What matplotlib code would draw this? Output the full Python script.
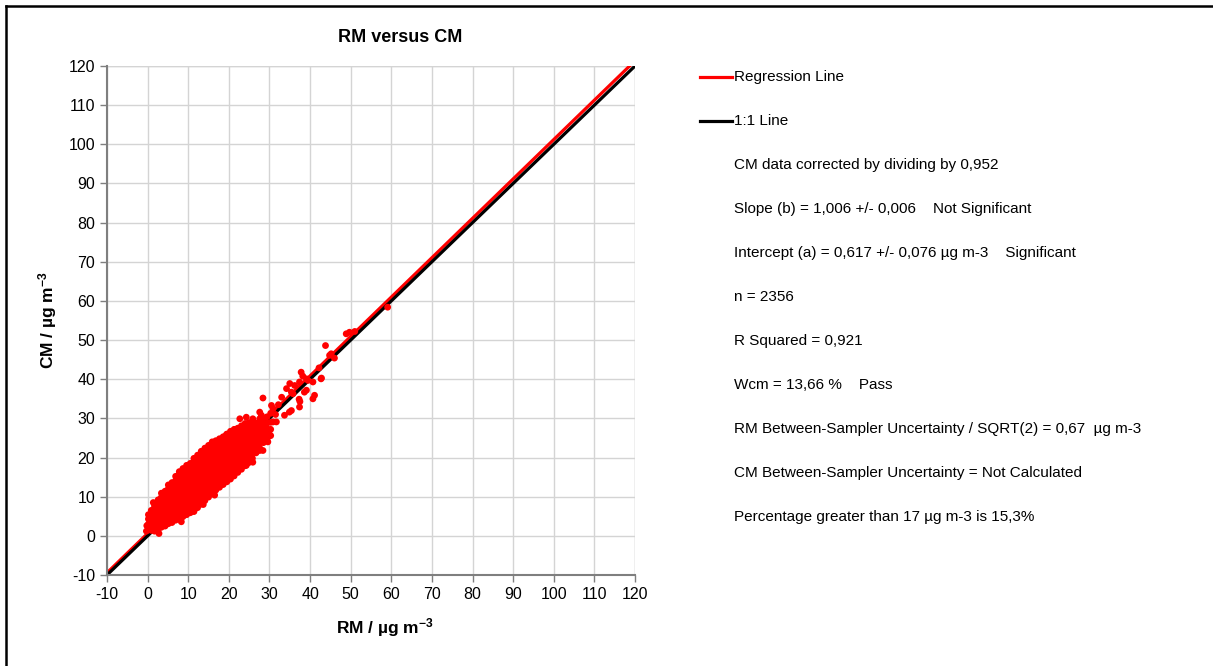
import matplotlib
matplotlib.use('Agg')
import matplotlib.pyplot as plt
from matplotlib.lines import Line2D

plt.rcParams['font.family'] = ['Liberation Sans', 'DejaVu Sans']
plt.rcParams['mathtext.fontset'] = 'custom'
plt.rcParams['mathtext.rm'] = 'Liberation Sans'
plt.rcParams['mathtext.bf'] = 'Liberation Sans:bold'
plt.rcParams['axes.unicode_minus'] = False

# dense core of the cloud, read column by column (RM value -> CM values)
core_rm = [0.2, 0.9, 1.7, 2.6, 3.4, 4.3, 5.1, 6.0, 6.9, 7.8, 8.7, 9.6, 10.5, 11.4, 12.3,
           13.2, 14.1, 15.0, 15.9, 16.8, 17.7, 18.6, 19.5, 20.4, 21.3, 22.2, 23.1, 24.0,
           24.9, 25.8, 26.7, 27.6, 28.5, 29.4, 30.3]
core_cm = [
    [1.8, 3.0, 4.3, 5.4],
    [1.4, 2.6, 3.9, 5.1, 6.5],
    [1.2, 2.4, 3.7, 5.0, 6.2, 7.6],
    [1.6, 2.9, 4.1, 5.3, 6.6, 7.9, 9.2],
    [2.2, 3.4, 4.7, 6.0, 7.2, 8.5, 9.8, 10.9],
    [2.5, 3.8, 5.1, 6.3, 7.6, 8.9, 10.1, 11.4],
    [3.1, 4.4, 5.6, 6.9, 8.2, 9.4, 10.7, 12.0, 13.0],
    [3.4, 4.7, 6.0, 7.3, 8.5, 9.8, 11.1, 12.3, 13.6],
    [4.0, 5.3, 6.5, 7.8, 9.1, 10.3, 11.6, 12.9, 14.1, 15.2],
    [4.4, 5.7, 6.9, 8.2, 9.5, 10.7, 12.0, 13.3, 14.5, 15.8, 16.4],
    [4.9, 6.2, 7.5, 8.7, 10.0, 11.3, 12.5, 13.8, 15.0, 16.3, 17.2],
    [5.4, 6.7, 7.9, 9.2, 10.5, 11.7, 13.0, 14.3, 15.5, 16.8, 18.0],
    [5.9, 7.1, 8.4, 9.7, 10.9, 12.2, 13.5, 14.7, 16.0, 17.2, 18.5],
    [6.4, 7.7, 8.9, 10.2, 11.5, 12.7, 14.0, 15.3, 16.5, 17.8, 19.1, 19.8],
    [7.2, 8.4, 9.7, 11.0, 12.2, 13.5, 14.8, 16.0, 17.3, 18.5, 19.8, 20.6],
    [8.1, 9.3, 10.6, 11.9, 13.1, 14.4, 15.7, 16.9, 18.2, 19.4, 20.7, 21.6],
    [9.0, 10.2, 11.5, 12.8, 14.0, 15.3, 16.6, 17.8, 19.1, 20.3, 21.6, 22.4],
    [9.9, 11.1, 12.4, 13.7, 14.9, 16.2, 17.4, 18.7, 20.0, 21.2, 22.5, 23.1],
    [10.8, 12.1, 13.3, 14.6, 15.9, 17.1, 18.4, 19.6, 20.9, 22.2, 23.4, 24.0],
    [11.7, 13.0, 14.2, 15.5, 16.7, 18.0, 19.3, 20.5, 21.8, 23.0, 24.3],
    [12.4, 13.7, 14.9, 16.2, 17.5, 18.7, 20.0, 21.3, 22.5, 23.8, 24.8],
    [13.1, 14.4, 15.6, 16.9, 18.2, 19.4, 20.7, 22.0, 23.2, 24.5, 25.3],
    [13.8, 15.0, 16.3, 17.6, 18.8, 20.1, 21.4, 22.6, 23.9, 25.2, 26.0],
    [14.5, 15.8, 17.0, 18.3, 19.6, 20.8, 22.1, 23.3, 24.6, 25.9, 26.7],
    [15.3, 16.6, 17.8, 19.1, 20.4, 21.6, 22.9, 24.1, 25.4, 26.6, 27.2],
    [16.2, 17.4, 18.7, 20.0, 21.2, 22.5, 23.7, 25.0, 26.3, 27.5],
    [17.0, 18.3, 19.5, 20.8, 22.1, 23.3, 24.6, 25.8, 27.1, 28.1],
    [17.9, 19.1, 20.4, 21.7, 22.9, 24.2, 25.4, 26.7, 28.0, 28.7],
    [18.7, 20.0, 21.3, 22.5, 23.8, 25.0, 26.3, 27.6, 28.9],
    [19.8, 21.1, 22.3, 23.6, 24.9, 26.1, 27.4, 28.6, 29.3],
    [21.2, 22.5, 23.7, 25.0, 26.3, 27.5, 28.8],
    [22.4, 23.7, 25.0, 26.2, 27.5, 28.7, 29.9],
    [23.8, 25.1, 26.3, 27.6, 28.9, 30.1],
    [24.5, 26.0, 27.4, 28.8, 30.4],
    [25.6, 27.2, 29.0, 31.3],
]

# scattered points outside the core
spread_rm = [-0.3, -0.2, 0.6, 1.4, 3.4, 2.8, 8.3, 11.4, 13.7, 16.5, 24.3, 19.4, 22.7, 24.3,
             28.4, 33.0, 30.9, 30.0, 31.7, 28.4, 35.0, 37.5, 35.4, 33.7, 37.8, 39.1, 40.7,
             41.1, 42.7, 43.8, 46.0, 44.8, 45.2, 48.9, 49.7, 51.0, 59.1, 38.2, 39.1, 40.7,
             34.2, 35.8, 36.2, 38.6, 42.8, 42.2, 30.5, 35.4, 37.4, 39.5, 37.3, 37.4, 34.9,
             30.9, 28.8, 29.6, 27.6, 25.9, 28.0, 25.9, 27.6, 25.5, 27.2, 21.5, 32.2, 31.5]
spread_cm = [1.2, 2.6, 3.6, 8.5, 9.7, 0.6, 3.6, 6.2, 8.0, 10.4, 18.0, 25.8, 29.9, 30.3,
             35.2, 35.4, 32.5, 25.8, 29.1, 21.8, 38.9, 34.3, 32.0, 30.8, 41.8, 37.2, 35.0,
             35.9, 40.1, 48.6, 45.4, 46.1, 46.5, 51.6, 52.0, 52.2, 58.4, 40.8, 40.1, 39.3,
             37.6, 36.3, 38.4, 36.7, 40.3, 42.9, 33.3, 36.7, 39.3, 39.7, 34.9, 32.9, 31.6,
             29.1, 27.8, 24.0, 21.8, 18.8, 30.8, 29.9, 31.6, 26.9, 25.7, 21.0, 33.5, 31.0]

slope = 1.006
intercept = 0.617
line_x = [-10, 120]

info_lines = [
    'CM data corrected by dividing by 0,952',
    'Slope (b) = 1,006 +/- 0,006    Not Significant',
    'Intercept (a) = 0,617 +/- 0,076 µg m-3    Significant',
    'n = 2356',
    'R Squared = 0,921',
    'Wcm = 13,66 %    Pass',
    'RM Between-Sampler Uncertainty / SQRT(2) = 0,67  µg m-3',
    'CM Between-Sampler Uncertainty = Not Calculated',
    'Percentage greater than 17 µg m-3 is 15,3%',
]

W, H = 1213, 666
fig = plt.figure(figsize=(W / 100, H / 100), dpi=100)
ax = fig.add_axes([107 / W, 1 - 575 / H, 528 / W, 509 / H])

rm_all = []
cm_all = []
for x, ys in zip(core_rm, core_cm):
    rm_all += [x] * len(ys)
    cm_all += ys
rm_all += spread_rm
cm_all += spread_cm

ax.plot(line_x, [slope * v + intercept for v in line_x], color='#ff0000', lw=2.3, zorder=2,
        solid_capstyle='butt')
ax.plot(line_x, line_x, color='black', lw=2.3, zorder=2.1, solid_capstyle='butt')
ax.scatter(rm_all, cm_all, s=24, color='#ff0000', edgecolors='none', zorder=3)

ax.set_xlim(-10, 120)
ax.set_ylim(-10, 120)
ax.set_xticks(range(-10, 121, 10))
ax.set_yticks(range(-10, 121, 10))
ax.grid(True, color='#d4d4d4', lw=1)
ax.set_axisbelow(True)
for s in ['top', 'right']:
    ax.spines[s].set_visible(False)
for s in ['left', 'bottom']:
    ax.spines[s].set_color('#7f7f7f')
    ax.spines[s].set_linewidth(1.5)
ax.tick_params(colors='#7f7f7f', labelcolor='black', labelsize=11.5, length=5, width=1)
# top and right edges are just light grid lines at 120
ax.axhline(120, color='#d4d4d4', lw=1, zorder=0.5)
ax.axvline(120, color='#d4d4d4', lw=1, zorder=0.5)

ax.set_xlabel(r'RM / µg m$\mathbf{^{-3}}$', fontsize=12.5, fontweight='bold')
ax.set_ylabel(r'CM / µg m$\mathbf{^{-3}}$', fontsize=12.5, fontweight='bold')
ax.xaxis.set_label_coords((385 - 107) / 528, -(628 - 575) / 509)
ax.yaxis.set_label_coords(-(107 - 48) / 528, (575 - 320) / 509)
ax.xaxis.label.set_va('center')
ax.yaxis.label.set_va('center')
fig.text(400 / W, 1 - 37 / H, 'RM versus CM', ha='center', va='center',
         fontsize=13, fontweight='bold')

# legend entries drawn by hand at the right
fig.add_artist(Line2D([700 / W, 732 / W], [1 - 77 / H] * 2, color='#ff0000', lw=2.3,
                      transform=fig.transFigure))
fig.add_artist(Line2D([700 / W, 732 / W], [1 - 121 / H] * 2, color='black', lw=2.3,
                      transform=fig.transFigure))
fig.text(734 / W, 1 - 77 / H, 'Regression Line', ha='left', va='center', fontsize=11)
fig.text(734 / W, 1 - 121 / H, '1:1 Line', ha='left', va='center', fontsize=11)
for i, t in enumerate(info_lines):
    fig.text(734 / W, 1 - (165 + 44 * i) / H, t, ha='left', va='center', fontsize=11)

# outer chart border (only top and left visible)
fig.add_artist(Line2D([6 / W, 1.0], [1 - 6 / H] * 2, color='black', lw=1.8,
                      transform=fig.transFigure))
fig.add_artist(Line2D([6 / W] * 2, [0.0, 1 - 6 / H], color='black', lw=1.8,
                      transform=fig.transFigure))

fig.savefig('out.png', dpi=100)
plt.close()
